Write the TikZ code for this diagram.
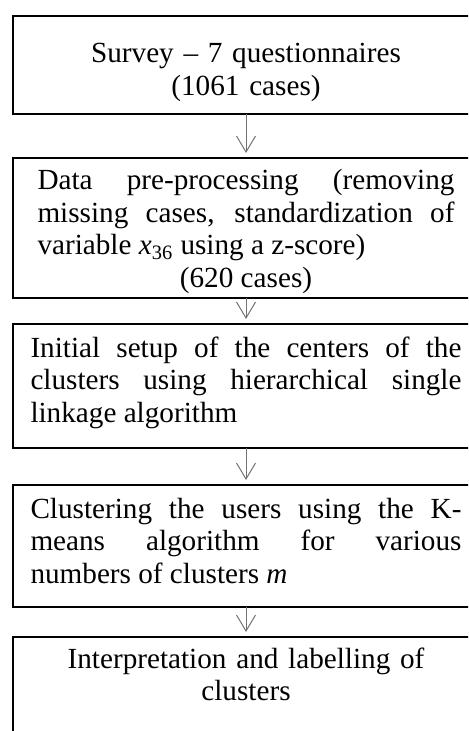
\documentclass[tikz,border=0pt]{standalone}
\usepackage{fontspec}
\setmainfont{Liberation Serif}
\usetikzlibrary{arrows.meta}
\newdimen\pxu
\pxu=0.5pt
\hyphenpenalty=10000
\tolerance=10000

\begin{document}
\begin{tikzpicture}[
    x=0.5pt, y=-0.5pt,
    stage/.style={draw, line width=1pt, anchor=north west, outer sep=0pt,
        inner ysep=0pt, inner xsep=17.5\pxu, text width=431\pxu,
        align=justify, font=\fontsize{14.6}{16.25}\selectfont},
    flow/.style={-{Straight Barb[length=8pt, width=9.5pt]}, black!55,
        line width=0.5pt, shorten >=2.5pt},
]
\clip (0,0) rectangle (468,731);

% Step 1: survey
\node[stage, align=center, text height=47\pxu, text depth=51\pxu]
    (survey) at (13,16) {Survey -- 7 questionnaires\\(1061 cases)};

% Step 2: pre-processing
\node[stage, text width=417\pxu, inner xsep=24.5\pxu,
    text height=32\pxu, text depth=108\pxu] (prep) at (13,158)
    {Data pre-processing (removing\linebreak missing cases, standardization of\linebreak
     variable \textit{x}\textsubscript{36} using a z-score)\par
     {\centering (620 cases)\par}};

% Step 3: initial centers
\node[stage, text height=33\pxu, text depth=91\pxu] (init) at (13,324)
    {Initial setup of the centers of the\linebreak clusters using hierarchical single\linebreak
     linkage algorithm};

% Step 4: K-means
\node[stage, text height=33\pxu, text depth=89\pxu] (kmeans) at (13,485)
    {Clustering the users using the K-\linebreak means algorithm for various\linebreak
     numbers of clusters \textit{m}};

% Step 5: interpretation (runs off the bottom)
\node[stage, align=center, text height=31\pxu, text depth=130\pxu]
    (interp) at (13,637) {Interpretation and labelling of\\clusters};

% Arrows between steps
\foreach \a/\b in {survey/prep, prep/init, init/kmeans, kmeans/interp}
    \draw[flow] (\a.south) -- (\b.north);

\end{tikzpicture}
\end{document}
